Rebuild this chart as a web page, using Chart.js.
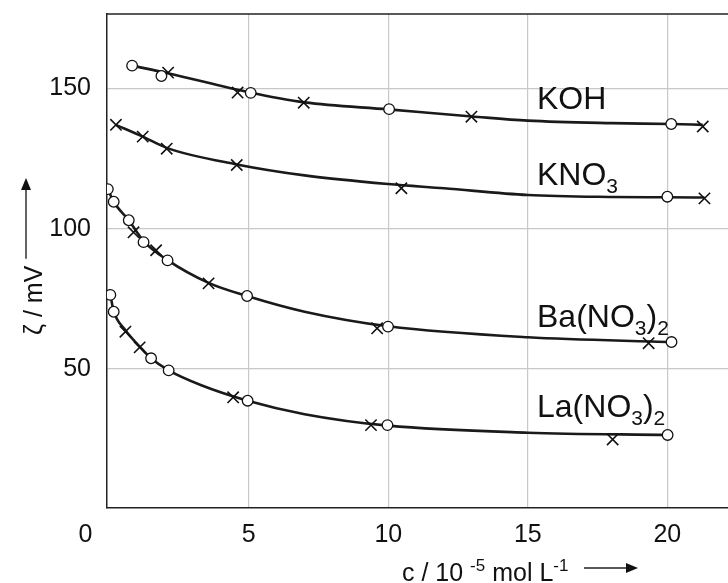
<!DOCTYPE html>
<html>
<head>
<meta charset="utf-8">
<script src="https://cdn.jsdelivr.net/npm/chart.js@4.4.1/dist/chart.umd.min.js"></script>
<style>
  html, body { margin: 0; padding: 0; background: #fff; overflow: hidden; }
</style>
</head>
<body>
<canvas id="zeta" width="740" height="583"></canvas>
<script>
const FONT = "'Liberation Sans', Arial, sans-serif";

// ticks
const xTicks = [5, 10, 15, 20];
const yTicks = [50, 100, 150];

// KOH
const kohCircles = [[0.82, 158.1], [1.87, 154.4], [5.07, 148.4], [10.03, 142.6], [20.14, 137.3]];
const kohCrosses = [[2.11, 155.6], [4.60, 148.5], [6.97, 144.9], [12.98, 139.9], [21.27, 136.4]];
const kohCurve = [[0.82, 158.1], [2.1, 155.4], [5, 148.6], [7, 145.0], [10, 142.5], [13, 140.0], [15, 138.5], [18, 137.6], [20.14, 137.3], [21.27, 137.0]];

// KNO3
const kno3Circles = [[20.0, 111.4]];
const kno3Crosses = [[0.24, 137.0], [1.20, 132.8], [2.06, 128.5], [4.57, 122.7], [10.47, 114.4], [21.33, 110.8]];
const kno3Curve = [[0.24, 137.0], [1.2, 132.8], [2.06, 128.8], [4.57, 122.9], [7, 119.0], [10, 115.9], [12, 114.4], [15, 112.0], [18, 111.3], [20, 111.2], [21.33, 111.1]];

// Ba(NO3)2
const baCircles = [[-0.05, 114.1], [0.16, 109.6], [0.70, 103.0], [1.23, 95.2], [2.09, 88.7], [4.94, 76.0], [9.99, 65.1], [20.15, 59.6]];
const baCrosses = [[0.87, 98.7], [1.68, 92.3], [3.56, 80.5], [9.60, 64.5], [19.33, 59.2]];
const baCurve = [[-0.05, 114.1], [0.16, 109.6], [0.7, 103.0], [1.23, 95.6], [2.09, 88.8], [3.56, 80.7], [4.94, 76.0], [7, 70.4], [10, 65.2], [15, 61.3], [20.15, 59.6]];

// La(NO3)2
const laCircles = [[0.04, 76.4], [0.16, 70.4], [1.50, 53.8], [2.13, 49.5], [4.96, 38.7], [9.97, 30.0], [20.01, 26.5]];
const laCrosses = [[0.58, 63.3], [1.09, 57.7], [4.44, 39.9], [9.38, 30.0], [18.04, 24.9]];
const laCurve = [[0.04, 76.4], [0.16, 70.6], [0.58, 63.8], [1.09, 58.0], [1.5, 53.8], [2.13, 49.5], [3.3, 44.2], [4.96, 38.7], [7, 33.9], [10, 29.8], [15, 27.3], [20.01, 26.5]];

// labels: [x, y] in data units, pieces [text, isSub]
const seriesLabels = [
    { at: [15.33, 142.6], parts: [['KOH', 0]] },
    { at: [15.33, 115.6], parts: [['KNO', 0], ['3', 1]] },
    { at: [15.33, 65.1], parts: [['Ba(NO', 0], ['3', 1], [')', 0], ['2', 1]] },
    { at: [15.33, 33.0], parts: [['La(NO', 0], ['3', 1], [')', 0], ['2', 1]] }
];

const pts = a => a.map(([x, y]) => ({ x, y }));

function curve(a) {
    return { type: 'line', data: pts(a), borderColor: '#1a1a1a', borderWidth: 2.6, pointRadius: 0,
        cubicInterpolationMode: 'monotone', fill: false, order: 3 };
}
function circles(a) {
    return { data: pts(a), pointStyle: 'circle', pointRadius: 5.3, pointBackgroundColor: '#fff',
        pointBorderColor: '#111', pointBorderWidth: 1.3, order: 1 };
}
function crosses(a) {
    return { data: pts(a), pointStyle: 'crossRot', pointRadius: 8, pointBorderColor: '#111',
        pointBorderWidth: 1.6, order: 2 };
}

function drawFormula(ctx, parts, x, y) {
    ctx.textAlign = 'left';
    ctx.textBaseline = 'alphabetic';
    parts.forEach(([t, sub]) => {
        ctx.font = sub ? `21px ${FONT}` : `32px ${FONT}`;
        ctx.fillText(t, x, sub ? y + 8 : y);
        x += ctx.measureText(t).width;
    });
}

function arrow(ctx, x1, y1, x2, y2) {
    const ang = Math.atan2(y2 - y1, x2 - x1), hl = 12, hw = 5;
    ctx.beginPath();
    ctx.moveTo(x1, y1);
    ctx.lineTo(x2 - hl * Math.cos(ang), y2 - hl * Math.sin(ang));
    ctx.lineWidth = 1.4;
    ctx.stroke();
    ctx.beginPath();
    ctx.moveTo(x2, y2);
    ctx.lineTo(x2 - hl * Math.cos(ang) - hw * Math.sin(ang), y2 - hl * Math.sin(ang) + hw * Math.cos(ang));
    ctx.lineTo(x2 - hl * Math.cos(ang) + hw * Math.sin(ang), y2 - hl * Math.sin(ang) - hw * Math.cos(ang));
    ctx.closePath();
    ctx.fill();
}

const decor = {
    id: 'decor',
    afterDraw(chart) {
        const ctx = chart.ctx, a = chart.chartArea;
        const xs = chart.scales.x, ys = chart.scales.y;
        ctx.save();
        ctx.fillStyle = '#111';
        ctx.strokeStyle = '#222';

        // top frame line
        ctx.lineWidth = 1.5;
        ctx.beginPath();
        ctx.moveTo(a.left, a.top);
        ctx.lineTo(a.right, a.top);
        ctx.stroke();

        // origin "0"
        ctx.font = `25px ${FONT}`;
        ctx.textAlign = 'center';
        ctx.textBaseline = 'middle';
        ctx.fillText('0', xs.getPixelForValue(-0.85), a.bottom + 27);

        // series labels
        seriesLabels.forEach(l => drawFormula(ctx, l.parts, xs.getPixelForValue(l.at[0]), ys.getPixelForValue(l.at[1])));

        // x title
        let x = 402, y = 581;
        ctx.textAlign = 'left';
        ctx.textBaseline = 'alphabetic';
        [['c / 10 ', 0], ['-5', 1], [' mol L', 0], ['-1', 1]].forEach(([t, sup]) => {
            ctx.font = sup ? `17px ${FONT}` : `25px ${FONT}`;
            ctx.fillText(t, x, sup ? y - 10 : y);
            x += ctx.measureText(t).width;
        });
        arrow(ctx, 584, 568, 638, 568);

        // y title (rotated)
        ctx.translate(42, 335);
        ctx.rotate(-Math.PI / 2);
        ctx.font = `25px ${FONT}`;
        const t = 'ζ / mV';
        ctx.fillText(t, 0, 0);
        const w = ctx.measureText(t).width;
        arrow(ctx, w + 7, -16, 157, -16);
        ctx.restore();
    }
};

new Chart(document.getElementById('zeta'), {
    type: 'scatter',
    data: {
        datasets: [
            circles(kohCircles), crosses(kohCrosses), curve(kohCurve),
            circles(kno3Circles), crosses(kno3Crosses), curve(kno3Curve),
            circles(baCircles), crosses(baCrosses), curve(baCurve),
            circles(laCircles), crosses(laCrosses), curve(laCurve)
        ]
    },
    options: {
        responsive: false,
        animation: false,
        events: [],
        layout: { padding: { top: 14, right: 5, left: 0, bottom: 0 } },
        plugins: { legend: { display: false }, tooltip: { enabled: false } },
        scales: {
            x: {
                type: 'linear', min: -0.08, max: 22.26,
                afterBuildTicks: s => { s.ticks = xTicks.map(v => ({ value: v })); },
                afterFit: s => { s.height = 75; s.paddingLeft = 0; s.paddingRight = 0; },
                grid: { color: '#c8c8c8', lineWidth: 1.2, drawTicks: false },
                border: { color: '#222', width: 1.5 },
                ticks: { padding: 12, color: '#111', font: { family: FONT, size: 25 } }
            },
            y: {
                min: 0.46, max: 176.5,
                afterBuildTicks: s => { s.ticks = yTicks.map(v => ({ value: v })); },
                afterFit: s => { s.width = 107; s.paddingTop = 0; s.paddingBottom = 0; },
                grid: { color: '#c8c8c8', lineWidth: 1.2, drawTicks: false },
                border: { color: '#222', width: 1.5 },
                ticks: { padding: 16, color: '#111', font: { family: FONT, size: 25 } }
            }
        }
    },
    plugins: [decor]
});
</script>
</body>
</html>
